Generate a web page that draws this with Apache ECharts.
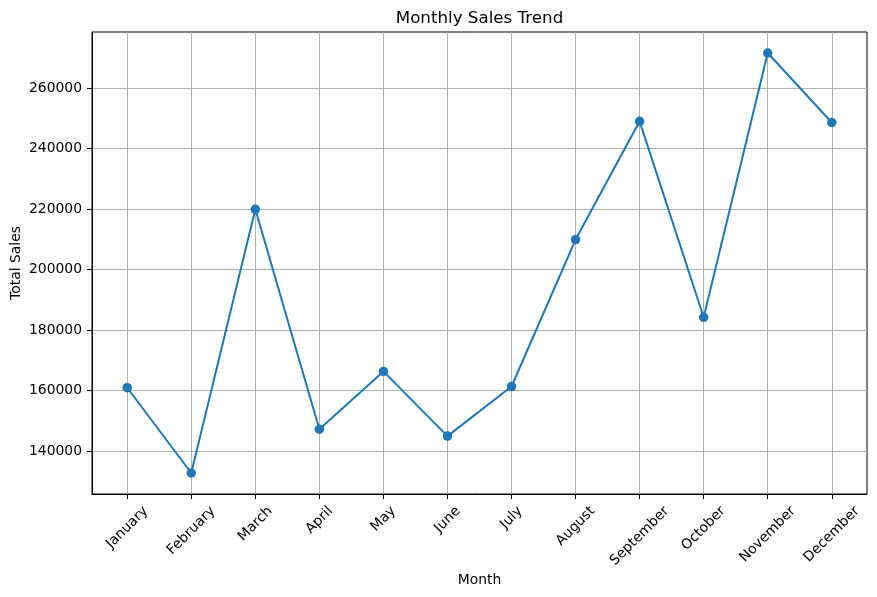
<!DOCTYPE html>
<html>
<head>
<meta charset="utf-8">
<title>Monthly Sales Trend</title>
<script src="https://cdn.jsdelivr.net/npm/echarts@6/dist/echarts.min.js"></script>
<style>
html, body { margin: 0; padding: 0; background: #fff; }
#main { width: 877px; height: 597px; }
</style>
</head>
<body>
<div id="main"></div>
<script>
var months = ['January', 'February', 'March', 'April', 'May', 'June',
	'July', 'August', 'September', 'October', 'November', 'December'];
var sales = [160900, 132700, 219900, 147200, 166300, 144900,
	161300, 209900, 249000, 184200, 271600, 248600];
var yTicks = [140000, 160000, 180000, 200000, 220000, 240000, 260000];

(function () {
	var FONT = 'DejaVu Sans';
	var tickSize = 13.9;
	var chart = echarts.init(document.getElementById('main'));

	// matplotlib centres a rotated label under its tick, echarts ends it there.
	// centre them and pad the shorter ones so every label starts at the same top.
	var ctx = document.createElement('canvas').getContext('2d');
	ctx.font = tickSize + 'px "' + FONT + '"';
	var widths = months.map(function (m) { return ctx.measureText(m).width; });
	var wMax = Math.max.apply(null, widths);
	var rich = {};
	months.forEach(function (m, i) {
		var p = (wMax - widths[i]) / 2;
		rich['m' + i] = {
			fontFamily: FONT,
			fontSize: tickSize,
			color: '#000',
			padding: [0, 0, p, p]
		};
	});
	var labelMargin = 10 + 0.354 * (wMax + tickSize);

	var idx = months.map(function (m, i) { return i; });
	var n = months.length;

	var option = {
		animation: false,
		title: {
			text: 'Monthly Sales Trend',
			left: 479.5,
			top: 10,
			textAlign: 'center',
			padding: 0,
			textStyle: {
				fontFamily: FONT,
				fontSize: 16.7,
				fontWeight: 'normal',
				color: '#000'
			}
		},
		grid: {
			left: 92,
			right: 10,
			top: 32,
			bottom: 103,
			outerBoundsMode: 'none',
			containLabel: false,
			show: true,
			borderColor: '#000',
			borderWidth: 1,
			backgroundColor: '#fff'
		},
		xAxis: {
			type: 'value',
			min: -0.05 * (n - 1),
			max: (n - 1) * 1.05,
			name: 'Month',
			nameLocation: 'middle',
			nameGap: 79,
			nameMoveOverlap: false,
			nameTextStyle: {
				fontFamily: FONT,
				fontSize: tickSize,
				color: '#000',
				verticalAlign: 'top'
			},
			axisLine: { show: true, onZero: false, lineStyle: { color: '#000', width: 1 } },
			axisTick: {
				show: true,
				length: 5,
				customValues: idx,
				lineStyle: { color: '#000', width: 1 }
			},
			axisLabel: {
				customValues: idx,
				rotate: 45,
				align: 'center',
				verticalAlign: 'middle',
				margin: labelMargin,
				formatter: function (v) {
					var i = Math.round(v);
					return '{m' + i + '|' + months[i] + '}';
				},
				rich: rich
			},
			splitLine: { show: true, lineStyle: { color: '#b0b0b0', width: 1 } }
		},
		yAxis: {
			type: 'value',
			min: function (v) { return v.min - 0.05 * (v.max - v.min); },
			max: function (v) { return v.max + 0.05 * (v.max - v.min); },
			name: 'Total Sales',
			nameLocation: 'middle',
			nameGap: 69,
			nameMoveOverlap: false,
			nameTextStyle: {
				fontFamily: FONT,
				fontSize: tickSize,
				color: '#000'
			},
			axisLine: { show: true, onZero: false, lineStyle: { color: '#000', width: 1 } },
			axisTick: {
				show: true,
				length: 5,
				customValues: yTicks,
				lineStyle: { color: '#000', width: 1 }
			},
			axisLabel: {
				customValues: yTicks,
				margin: 10,
				fontFamily: FONT,
				fontSize: tickSize,
				color: '#000',
				formatter: function (v) { return String(v); }
			},
			splitLine: { show: true, lineStyle: { color: '#b0b0b0', width: 1 } }
		},
		series: [
			{
				name: 'Total Sales',
				type: 'line',
				data: sales.map(function (v, i) { return [i, v]; }),
				symbol: 'circle',
				symbolSize: 9.5,
				showAllSymbol: true,
				lineStyle: { color: '#1f77b4', width: 2 },
				itemStyle: { color: '#1f77b4', borderWidth: 0 }
			}
		]
	};

	chart.setOption(option);

	window.onresize = function () {
		chart.resize();
	};
})();
</script>
</body>
</html>
